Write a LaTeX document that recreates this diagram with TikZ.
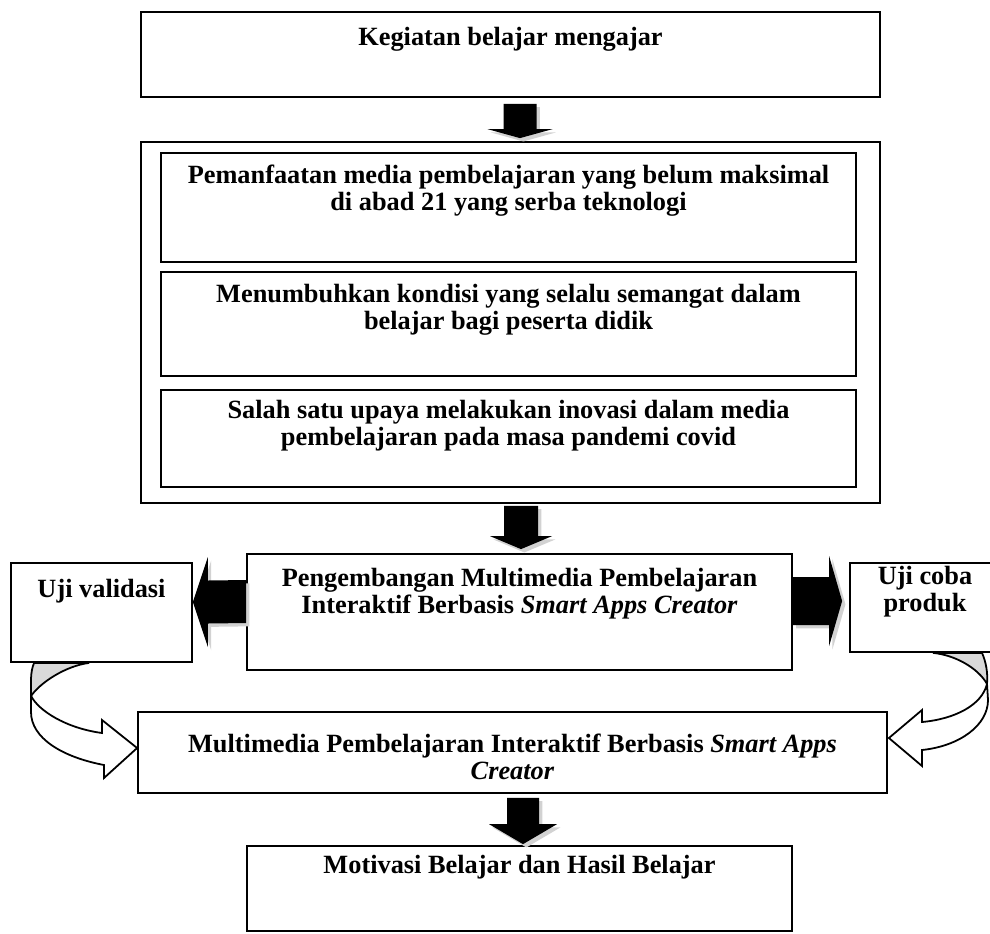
\documentclass[tikz,border=0pt]{standalone}
\usepackage{fontspec}
\setmainfont{Liberation Serif}
\usetikzlibrary{positioning, calc}

\tikzset{
  box/.style={draw, line width=0.8pt, inner sep=0pt, fill=white},
  txt/.style={font=\fontsize{11.85}{12.15}\selectfont\bfseries, align=center, inner sep=0pt},
  blk/.style={fill=black, preaction={fill=gray!35, transform canvas={shift={(1.5pt,-1.5pt)}}}},
  twist/.style={draw, line width=0.8pt, fill=white, line join=miter},
  twistback/.style={draw, line width=0.8pt, fill=gray!30},
}

% block arrows: start, tip, shaft half width, head half width, head length
\newcommand{\downblk}[5]{%
  \fill[blk] ($(#1)+(-#3,0)$) -- ($(#1)+(#3,0)$) -- ($(#2)+(#3,-#5)$) -- ($(#2)+(#4,-#5)$)
    -- (#2) -- ($(#2)+(-#4,-#5)$) -- ($(#2)+(-#3,-#5)$) -- cycle;}
\newcommand{\sideblk}[5]{%
  \fill[blk] ($(#1)+(0,-#3)$) -- ($(#2)+(#5,-#3)$) -- ($(#2)+(#5,-#4)$) -- (#2)
    -- ($(#2)+(#5,#4)$) -- ($(#2)+(#5,#3)$) -- ($(#1)+(0,#3)$) -- cycle;}

\begin{document}
\begin{tikzpicture}[x=0.45pt,y=-0.45pt]
  \useasboundingbox (0,0) rectangle (990,933);

  % boxes
  \node[box, minimum width=332.55pt, minimum height=38.25pt] (kbm) at (510.5,54.5) {};
  \node[box, minimum width=332.55pt, minimum height=162.45pt] (latar) at (510.5,322.5) {};
  \node[box, minimum width=312.75pt, minimum height=49.05pt] (masalah1) at (508.5,207.5) {};
  \node[box, minimum width=312.75pt, minimum height=46.8pt] (masalah2) at (508.5,324) {};
  \node[box, minimum width=312.75pt, minimum height=43.65pt] (masalah3) at (508.5,438.5) {};
  \node[box, minimum width=245.25pt, minimum height=52.2pt] (pengembangan) at (519.5,612) {};
  \node[box, minimum width=81.45pt, minimum height=44.55pt] (validasi) at (101.5,612.5) {};
  \node[box, minimum width=67.5pt, minimum height=40.05pt] (ujicoba) at (925,607.5) {};
  \node[box, minimum width=337.05pt, minimum height=36.45pt] (produk) at (512.5,752.5) {};
  \node[box, minimum width=245.25pt, minimum height=38.25pt] (motivasi) at (519.5,888.5) {};

  % texts
  \node[txt] (kbm_txt) at ($(kbm.north)+(0,28)$) {Kegiatan belajar mengajar};
  \node[txt] (masalah1_txt) at ($(masalah1.north)+(0,38.5)$)
    {Pemanfaatan media pembelajaran yang belum maksimal\\di abad 21 yang serba teknologi};
  \node[txt] (masalah2_txt) at ($(masalah2.north)+(0,39)$)
    {Menumbuhkan kondisi yang selalu semangat dalam\\belajar bagi peserta didik};
  \node[txt] (masalah3_txt) at ($(masalah3.north)+(0,36.5)$)
    {Salah satu upaya melakukan inovasi dalam media\\pembelajaran pada masa pandemi covid};
  \node[txt] (pengembangan_txt) at ($(pengembangan.north)+(0,40.5)$)
    {Pengembangan Multimedia Pembelajaran\\Interaktif Berbasis \textit{Smart Apps Creator}};
  \node[txt] (validasi_txt) at ($(validasi.north)+(0,29)$) {Uji validasi};
  \node[txt] (ujicoba_txt) at ($(ujicoba.north)+(0,29.5)$) {Uji coba\\produk};
  \node[txt] (produk_txt) at ($(produk.north)+(0,46)$)
    {Multimedia Pembelajaran Interaktif Berbasis \textit{Smart Apps}\\\textit{Creator}};
  \node[txt] (motivasi_txt) at ($(motivasi.north)+(0,22)$) {Motivasi Belajar dan Hasil Belajar};

  % block arrows
  \coordinate (a1_s) at ($(kbm.south)+(9.5,6)$);
  \coordinate (a1_t) at ($(latar.north)+(9.5,-3)$);
  \downblk{a1_s}{a1_t}{16.5}{32.5}{9}
  \coordinate (a2_s) at ($(latar.south)+(10.5,2)$);
  \coordinate (a2_t) at ($(pengembangan.north)+(1.5,-4)$);
  \downblk{a2_s}{a2_t}{17}{31}{13}
  \coordinate (a3_s) at ($(produk.south)+(10.5,4)$);
  \coordinate (a3_t) at ($(motivasi.north)+(3.5,-1)$);
  \downblk{a3_s}{a3_t}{16}{34}{20}
  \coordinate (a4_s) at ($(pengembangan.west)+(0,-10.5)$);
  \coordinate (a4_t) at ($(validasi.east)+(0,-10.5)$);
  \sideblk{a4_s}{a4_t}{21.5}{45}{15}
  \coordinate (a5_s) at ($(pengembangan.east)+(0,-11)$);
  \coordinate (a5_t) at ($(ujicoba.west)+(-7,-6.5)$);
  \sideblk{a5_s}{a5_t}{24}{45}{-13}

  % curved arrows
  \coordinate (v_a) at ($(validasi.south west)+(24,0)$);
  \coordinate (v_b) at ($(validasi.south west)+(79,0)$);
  \coordinate (v_q) at ($(validasi.south west)+(21,33)$);
  \coordinate (v_tip) at ($(produk.west)+(0,-4.5)$);
  \filldraw[twistback] (v_a) .. controls (30,672) and (31,684) .. (v_q)
    .. controls (40,683) and (65,666) .. (v_b) -- cycle;
  \filldraw[twist] (v_q) .. controls (38,710) and (65,728) .. (102,733) -- (102,720) -- (v_tip)
    -- (104,778) -- (104,765) .. controls (62,757) and (31,738) .. (31,712) -- cycle;

  \coordinate (u_a) at ($(ujicoba.south)+(8,0)$);
  \coordinate (u_b) at ($(ujicoba.south)+(57,0)$);
  \coordinate (u_q) at ($(ujicoba.south)+(62,31)$);
  \coordinate (u_tip) at ($(produk.east)+(1,-14.5)$);
  \filldraw[twistback] (u_b) .. controls (986,662) and (988,673) .. (u_q)
    .. controls (978,668) and (955,655) .. (u_a) -- cycle;
  \filldraw[twist] (u_q) .. controls (982,705) and (955,719) .. (922,722) -- (922,710) -- (u_tip)
    -- (922,766) -- (922,750) .. controls (960,746) and (988,725) .. (988,700) -- cycle;
\end{tikzpicture}
\end{document}
